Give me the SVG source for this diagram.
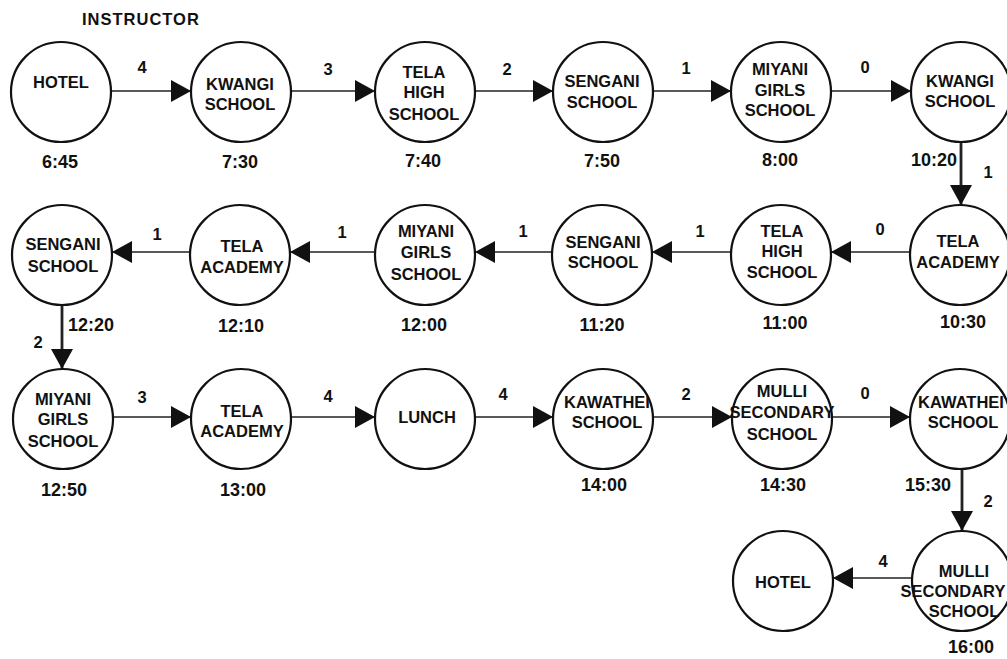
<svg xmlns="http://www.w3.org/2000/svg" width="1007" height="659" viewBox="0 0 1007 659">
<style>
.n circle{fill:#fff;stroke:#111;stroke-width:2.2}
text{font-family:"Liberation Sans",Arial,sans-serif;fill:#111;font-weight:bold}
.t{font-size:16.5px;text-anchor:middle}
.tm{font-size:18px;text-anchor:middle}
.e{font-size:16.5px;text-anchor:middle}
.c line{stroke:#222;stroke-width:1.4;marker-end:url(#ah)}
.c line.v{stroke-width:2.8}
</style>
<defs>
<marker id="ah" viewBox="0 0 20 22" refX="20" refY="11" markerWidth="20" markerHeight="22" markerUnits="userSpaceOnUse" orient="auto">
<path d="M0,0 L20,11 L0,22 Z" fill="#111"/>
</marker>
</defs>
<rect width="1007" height="659" fill="#fff"/>
<text x="82" y="25" style="font-size:16.5px;letter-spacing:1px">INSTRUCTOR</text>

<g id="connectors" class="c">
<line x1="111" y1="91" x2="191" y2="91"/>
<line x1="291" y1="91" x2="375" y2="91"/>
<line x1="475" y1="91" x2="553" y2="91"/>
<line x1="653" y1="91" x2="731" y2="91"/>
<line x1="831" y1="91" x2="911" y2="91"/>
<line class="v" x1="961" y1="142" x2="961" y2="205"/>
<line x1="910" y1="252" x2="831" y2="252"/>
<line x1="731" y1="252" x2="652" y2="252"/>
<line x1="552" y1="252" x2="475" y2="252"/>
<line x1="375" y1="252" x2="290" y2="252"/>
<line x1="190" y1="252" x2="112" y2="252"/>
<line class="v" x1="62" y1="305" x2="62" y2="369"/>
<line x1="113" y1="417" x2="191" y2="417"/>
<line x1="291" y1="417" x2="375" y2="417"/>
<line x1="475" y1="417" x2="553" y2="417"/>
<line x1="653" y1="417" x2="732" y2="417"/>
<line x1="832" y1="417" x2="910" y2="417"/>
<line class="v" x1="962" y1="469" x2="962" y2="531"/>
<line x1="912" y1="578" x2="833" y2="578"/>
</g>

<g id="edge-labels">
<text class="e" x="142" y="73">4</text>
<text class="e" x="328" y="75">3</text>
<text class="e" x="507" y="75">2</text>
<text class="e" x="686" y="74">1</text>
<text class="e" x="865" y="73">0</text>
<text class="e" x="988" y="178">1</text>
<text class="e" x="157" y="240">1</text>
<text class="e" x="342" y="238">1</text>
<text class="e" x="523" y="237">1</text>
<text class="e" x="700" y="237">1</text>
<text class="e" x="880" y="235">0</text>
<text class="e" x="38" y="348">2</text>
<text class="e" x="142" y="403">3</text>
<text class="e" x="328" y="402">4</text>
<text class="e" x="503" y="400">4</text>
<text class="e" x="686" y="400">2</text>
<text class="e" x="865" y="399">0</text>
<text class="e" x="988" y="507">2</text>
<text class="e" x="883" y="567">4</text>
</g>

<g id="n1" class="n"><circle cx="61" cy="92" r="50"/><text class="t" x="61" y="88">HOTEL</text><text class="tm" x="60" y="168">6:45</text></g>
<g id="n2" class="n"><circle cx="241" cy="92" r="50"/><text class="t" x="240" y="90">KWANGI</text><text class="t" x="240" y="110">SCHOOL</text><text class="tm" x="240" y="168">7:30</text></g>
<g id="n3" class="n"><circle cx="425" cy="92" r="50"/><text class="t" x="424" y="78">TELA</text><text class="t" x="424" y="98">HIGH</text><text class="t" x="424" y="120">SCHOOL</text><text class="tm" x="423" y="167">7:40</text></g>
<g id="n4" class="n"><circle cx="603" cy="92" r="50"/><text class="t" x="602" y="87">SENGANI</text><text class="t" x="602" y="108">SCHOOL</text><text class="tm" x="602" y="167">7:50</text></g>
<g id="n5" class="n"><circle cx="781" cy="92" r="50"/><text class="t" x="780" y="75">MIYANI</text><text class="t" x="780" y="96">GIRLS</text><text class="t" x="780" y="116">SCHOOL</text><text class="tm" x="780" y="166">8:00</text></g>
<g id="n6" class="n"><circle cx="961" cy="92" r="50"/><text class="t" x="960" y="87">KWANGI</text><text class="t" x="960" y="107">SCHOOL</text><text class="tm" x="957" y="166" style="text-anchor:end">10:20</text></g>

<g id="n7" class="n"><circle cx="960" cy="255" r="50"/><text class="t" x="958" y="247">TELA</text><text class="t" x="958" y="268">ACADEMY</text><text class="tm" x="963" y="328">10:30</text></g>
<g id="n8" class="n"><circle cx="781" cy="255" r="50"/><text class="t" x="782" y="237">TELA</text><text class="t" x="782" y="257">HIGH</text><text class="t" x="782" y="278">SCHOOL</text><text class="tm" x="785" y="329">11:00</text></g>
<g id="n9" class="n"><circle cx="602" cy="255" r="50"/><text class="t" x="603" y="248">SENGANI</text><text class="t" x="603" y="268">SCHOOL</text><text class="tm" x="602" y="331">11:20</text></g>
<g id="n10" class="n"><circle cx="425" cy="255" r="50"/><text class="t" x="426" y="237">MIYANI</text><text class="t" x="426" y="258">GIRLS</text><text class="t" x="426" y="280">SCHOOL</text><text class="tm" x="424" y="331">12:00</text></g>
<g id="n11" class="n"><circle cx="240" cy="255" r="50"/><text class="t" x="242" y="252">TELA</text><text class="t" x="242" y="273">ACADEMY</text><text class="tm" x="241" y="332">12:10</text></g>
<g id="n12" class="n"><circle cx="62" cy="255" r="50"/><text class="t" x="63" y="250">SENGANI</text><text class="t" x="63" y="272">SCHOOL</text><text class="tm" x="68" y="331" style="text-anchor:start">12:20</text></g>

<g id="n13" class="n"><circle cx="63" cy="419" r="50"/><text class="t" x="63" y="405">MIYANI</text><text class="t" x="63" y="425">GIRLS</text><text class="t" x="63" y="447">SCHOOL</text><text class="tm" x="64" y="496">12:50</text></g>
<g id="n14" class="n"><circle cx="241" cy="419" r="50"/><text class="t" x="242" y="417">TELA</text><text class="t" x="242" y="437">ACADEMY</text><text class="tm" x="243" y="496">13:00</text></g>
<g id="n15" class="n"><circle cx="425" cy="419" r="50"/><text class="t" x="427" y="423">LUNCH</text></g>
<g id="n16" class="n"><circle cx="603" cy="419" r="50"/><text class="t" x="607" y="408">KAWATHEI</text><text class="t" x="607" y="428">SCHOOL</text><text class="tm" x="604" y="491">14:00</text></g>
<g id="n17" class="n"><circle cx="782" cy="419" r="50"/><text class="t" x="782" y="397">MULLI</text><text class="t" x="782" y="418">SECONDARY</text><text class="t" x="782" y="440">SCHOOL</text><text class="tm" x="783" y="491">14:30</text></g>
<g id="n18" class="n"><circle cx="960" cy="419" r="50"/><text class="t" x="961" y="408">KAWATHEI</text><text class="t" x="963" y="428">SCHOOL</text><text class="tm" x="951" y="491" style="text-anchor:end">15:30</text></g>

<g id="n19" class="n"><circle cx="962" cy="581" r="50"/><text class="t" x="964" y="577">MULLI</text><text class="t" x="953" y="597">SECONDARY</text><text class="t" x="964" y="617">SCHOOL</text><text class="tm" x="971" y="653">16:00</text></g>
<g id="n20" class="n"><circle cx="783" cy="581" r="50"/><text class="t" x="783" y="588">HOTEL</text></g>
</svg>
